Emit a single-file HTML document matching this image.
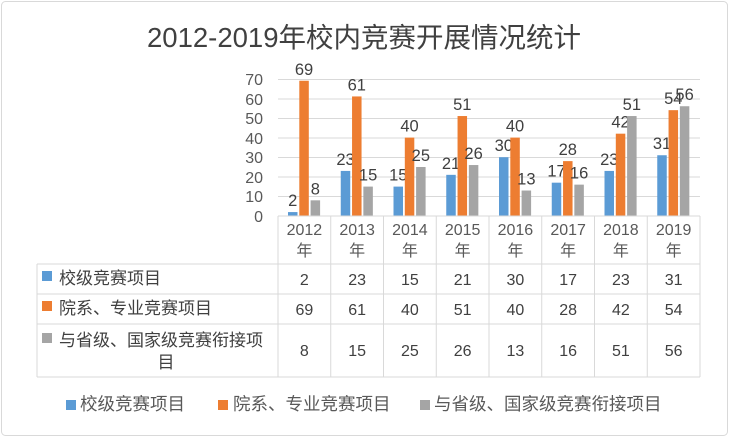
<!DOCTYPE html>
<html><head><meta charset="utf-8"><style>
html,body{margin:0;padding:0;background:#fff}
svg{display:block;font-family:"Liberation Sans","Noto Sans CJK SC",sans-serif}
</style></head><body>
<svg width="729" height="437" viewBox="0 0 729 437" xmlns="http://www.w3.org/2000/svg">
<rect x="1.5" y="1.5" width="726" height="434" rx="4" fill="#fff" stroke="#d9d9d9"/>
<text x="364" y="47" text-anchor="middle" font-size="27.5" fill="#404040">2012-2019年校内竞赛开展情况统计</text>
<g stroke="#d9d9d9" stroke-width="1">
<line x1="278" x2="700" y1="79.5" y2="79.5"/><line x1="278" x2="700" y1="99" y2="99"/>
<line x1="278" x2="700" y1="118.5" y2="118.5"/><line x1="278" x2="700" y1="138" y2="138"/>
<line x1="278" x2="700" y1="157.5" y2="157.5"/><line x1="278" x2="700" y1="177" y2="177"/>
<line x1="278" x2="700" y1="196.5" y2="196.5"/>
</g>
<g font-size="16" fill="#595959" text-anchor="end">
<text x="263" y="222">0</text><text x="263" y="202">10</text><text x="263" y="183">20</text>
<text x="263" y="163">30</text><text x="263" y="144">40</text><text x="263" y="124">50</text>
<text x="263" y="105">60</text><text x="263" y="85">70</text>
</g>
<g id="bars"></g>
<g fill="none" stroke="#d9d9d9">
<line x1="278" y1="216" x2="700" y2="216"/>
<line x1="37" y1="264" x2="700" y2="264"/><line x1="37" y1="294" x2="700" y2="294"/>
<line x1="37" y1="324" x2="700" y2="324"/><line x1="37" y1="377" x2="700" y2="377"/>
<line x1="37" y1="264" x2="37" y2="377"/>
</g>
<g id="cols"></g>
<g font-size="17" fill="#404040">
<rect x="42" y="271" width="10" height="10" fill="#5b9bd5"/><text x="59" y="284">校级竞赛项目</text>
<rect x="42" y="301" width="10" height="10" fill="#ed7d31"/><text x="59" y="314">院系、专业竞赛项目</text>
<rect x="42" y="333" width="10" height="10" fill="#a5a5a5"/><text x="59" y="346">与省级、国家级竞赛衔接项</text>
<text x="166" y="368" text-anchor="middle">目</text>
</g>
<g font-size="17.5" fill="#595959">
<rect x="66" y="400" width="10" height="10" fill="#5b9bd5"/><text x="80" y="410">校级竞赛项目</text>
<rect x="218" y="400" width="10" height="10" fill="#ed7d31"/><text x="233" y="410">院系、专业竞赛项目</text>
<rect x="420" y="400" width="10" height="10" fill="#a5a5a5"/><text x="434" y="410">与省级、国家级竞赛衔接项目</text>
</g>
<script>
var a=[2,23,15,21,30,17,23,31],b=[69,61,40,51,40,28,42,54],c=[8,15,25,26,13,16,51,56];
var yrs=[2012,2013,2014,2015,2016,2017,2018,2019];
var ns="http://www.w3.org/2000/svg",W=52.75,x0=278;
var bars=document.getElementById("bars"),cols=document.getElementById("cols");
function el(p,t,at,txt){var e=document.createElementNS(ns,t);for(var k in at)e.setAttribute(k,at[k]);if(txt!=null)e.textContent=txt;p.appendChild(e);}
function y(v){return 216-1.96*v;}
var cl=["#5b9bd5","#ed7d31","#a5a5a5"],d=[a,b,c];
for(var i=0;i<8;i++){
 var cx=x0+i*W;
 for(var s=0;s<3;s++){
  var bx=cx+10+s*11.3,v=d[s][i];
  el(bars,"rect",{x:bx,y:y(v),width:9.5,height:216-y(v),fill:cl[s]});
  el(bars,"text",{x:bx+4.75,y:y(v)-6,"text-anchor":"middle","font-size":"16.5",fill:"#404040"},v);
 }
 el(cols,"line",{x1:cx,x2:cx,y1:216,y2:377,stroke:"#d9d9d9"});
 var mx=cx+W/2;
 el(cols,"text",{x:mx,y:235,"text-anchor":"middle","font-size":"16",fill:"#595959"},yrs[i]);
 el(cols,"text",{x:mx,y:256,"text-anchor":"middle","font-size":"16",fill:"#595959"},"年");
 el(cols,"text",{x:mx,y:285,"text-anchor":"middle","font-size":"16",fill:"#404040"},a[i]);
 el(cols,"text",{x:mx,y:315,"text-anchor":"middle","font-size":"16",fill:"#404040"},b[i]);
 el(cols,"text",{x:mx,y:356,"text-anchor":"middle","font-size":"16",fill:"#404040"},c[i]);
}
el(cols,"line",{x1:700,x2:700,y1:216,y2:377,stroke:"#d9d9d9"});
</script>
</svg>
</body></html>
